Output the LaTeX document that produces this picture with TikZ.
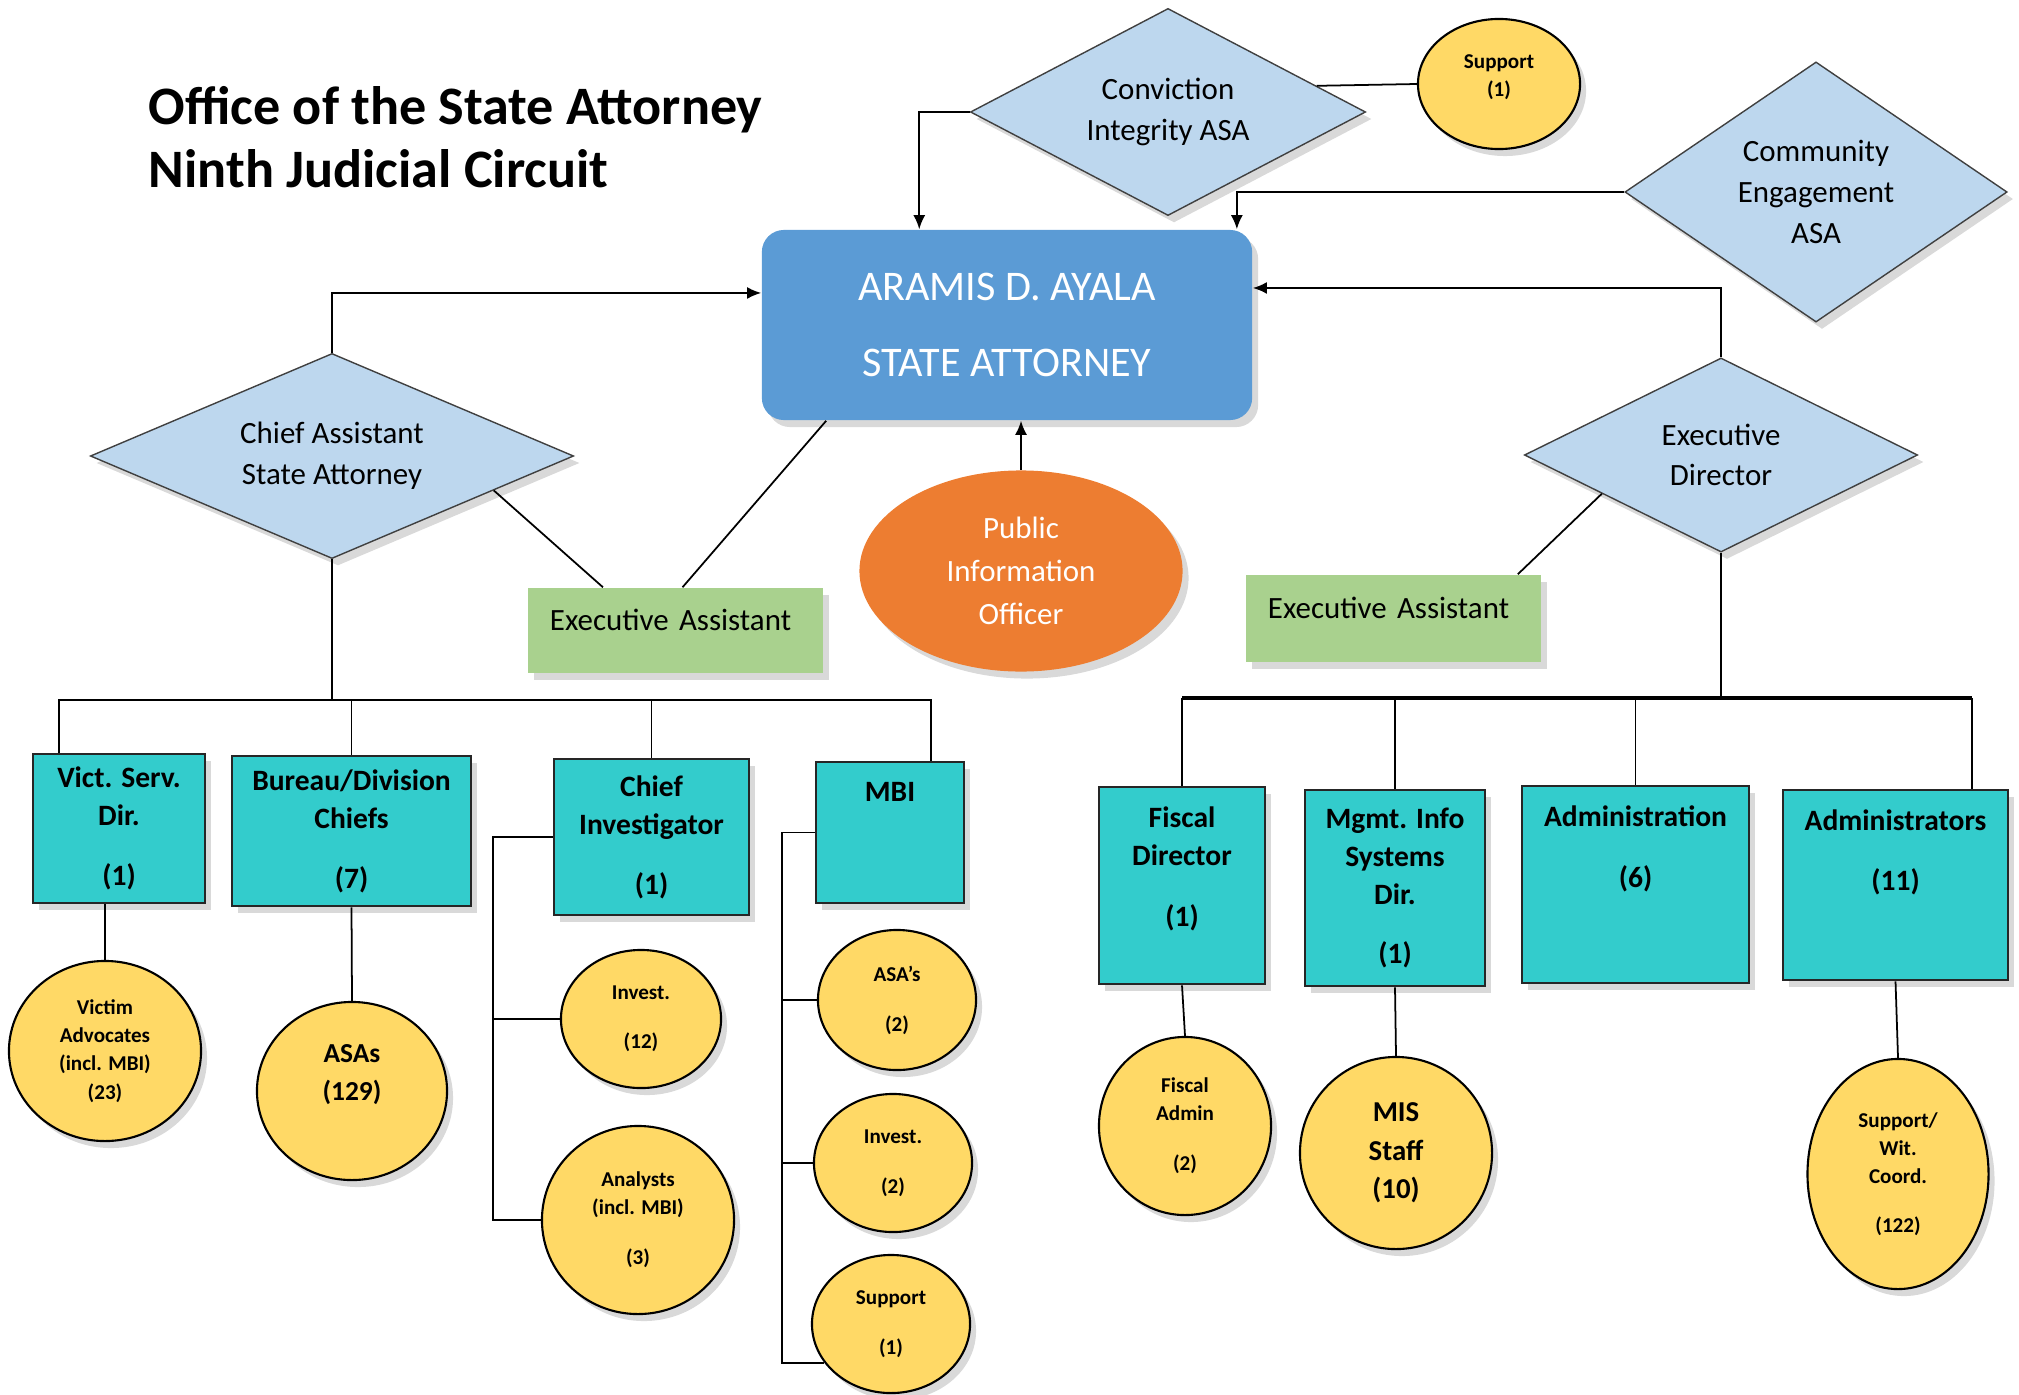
\documentclass[tikz,border=0pt]{standalone}
\usepackage{fontspec}
\setmainfont{Carlito}
\usetikzlibrary{shapes.geometric,shadows,arrows.meta}

\definecolor{asaBlue}{HTML}{BDD7EE}
\definecolor{saBlue}{HTML}{5B9BD5}
\definecolor{unitTeal}{HTML}{33CCCC}
\definecolor{staffGold}{HTML}{FFD966}
\definecolor{eaGreen}{HTML}{A9D18E}
\definecolor{pioOrange}{HTML}{ED7D31}

\tikzset{
  lift/.style={drop shadow={opacity=0.3, shadow xshift=0.6mm, shadow yshift=-0.7mm}},
  sa/.style={rectangle, rounded corners=0.22cm, fill=saBlue, text=white, align=center,
    inner sep=0pt, font=\fontsize{12}{21.5}\selectfont, lift},
  head/.style={diamond, aspect=2.5, draw=black!75, fill=asaBlue, inner sep=0pt, align=center,
    font=\fontsize{8.8}{11.6}\selectfont, lift},
  aide/.style={rectangle, fill=eaGreen, inner xsep=0.22cm, inner ysep=0pt, text width=2.51cm,
    align=left, text height=6pt, text depth=6pt, font=\fontsize{8.8}{10}\selectfont, lift},
  pr/.style={ellipse, fill=pioOrange, text=white, inner sep=0pt, align=center,
    font=\fontsize{8.8}{12.2}\selectfont, lift},
  unit/.style={rectangle, draw=black!85, line width=0.7pt, fill=unitTeal, inner sep=0pt,
    align=center, font=\bfseries\fontsize{8.4}{10.8}\selectfont, lift},
  staff/.style={ellipse, draw=black, line width=0.6pt, fill=staffGold, inner sep=0pt,
    align=center, font=\bfseries\fontsize{6}{8}\selectfont, lift},
  bigstaff/.style={staff, font=\bfseries\fontsize{7.8}{10.6}\selectfont},
  link/.style={black, line width=0.5pt},
  feed/.style={link, -{Latex[length=4pt,width=3.4pt]}},
  bus/.style={black, line width=1.1pt}
}

\begin{document}
\begin{tikzpicture}[x=0.01cm, y=-0.01cm]
  \path[use as bounding box] (0,0) rectangle (2019,1394);

  % Heading
  \node[anchor=base west, inner sep=0pt, font=\bfseries\fontsize{15.4}{18}\selectfont] (title1) at (148,125) {Office of the State Attorney};
  \node[anchor=base west, inner sep=0pt, font=\bfseries\fontsize{15.4}{18}\selectfont] (title2) at (148,188) {Ninth Judicial Circuit};

  % State Attorney and the offices around her
  \node[sa, minimum width=4.90cm, minimum height=1.90cm] (sa) at (1007,325) {ARAMIS D. AYALA\\STATE ATTORNEY};
  \node[head, minimum width=3.95cm, minimum height=2.07cm] (ci) at (1168,112) {Conviction\\Integrity ASA};
  \node[staff, minimum width=1.62cm, minimum height=1.30cm] (sup0) at (1499,84) {Support\\(1)\\[-3.2pt]~};
  \node[head, aspect=1.2, minimum width=3.82cm, minimum height=2.60cm] (ce) at (1816,192) {Community\\Engagement\\ASA};
  \node[head, minimum width=3.93cm, minimum height=1.94cm] (ed) at (1721,455) {Executive\\Director};
  \node[head, minimum width=4.83cm, minimum height=2.05cm] (cas) at (332,456) {Chief Assistant\\State Attorney};
  \node[aide, minimum height=0.85cm] (eal) at (675.5,630.5) {Executive Assistant};
  \node[aide, minimum height=0.87cm] (ear) at (1393.5,618.5) {Executive Assistant};
  \node[pr, minimum width=3.23cm, minimum height=2.01cm] (pio) at (1021,571) {Public\\Information\\Officer};

  % Units under the Chief Assistant
  \node[unit, minimum width=1.72cm, minimum height=1.49cm] (vsd) at (119,828.5) {Vict. Serv.\\Dir.\\[6.2pt](1)};
  \node[unit, minimum width=2.39cm, minimum height=1.50cm] (bdc) at (351.5,831) {Bureau/Division\\Chiefs\\[6.2pt](7)};
  \node[unit, minimum width=1.95cm, minimum height=1.56cm] (civ) at (651.5,837) {Chief\\Investigator\\[6.2pt](1)};
  \node[unit, minimum width=1.48cm, minimum height=1.41cm] (mbi) at (890,832.5) {MBI\\[12pt]~};

  % Units under the Executive Director
  \node[unit, minimum width=1.66cm, minimum height=1.97cm] (fd) at (1182,885.5) {Fiscal\\Director\\[6.5pt](1)\\~};
  \node[unit, minimum width=1.80cm, minimum height=1.96cm] (mis) at (1395,888) {Mgmt. Info\\Systems\\Dir.\\[6.2pt](1)};
  \node[unit, minimum width=2.27cm, minimum height=1.97cm] (adm) at (1635.5,884.5) {Administration\\[6.5pt](6)\\[10.7pt]~};
  \node[unit, minimum width=2.25cm, minimum height=1.90cm] (ads) at (1895.5,885) {Administrators\\[6.2pt](11)\\[9pt]~};

  % Staff
  \node[staff, minimum width=1.92cm, minimum height=1.80cm] (va) at (105,1051) {Victim\\Advocates\\(incl. MBI)\\(23)};
  \node[bigstaff, minimum width=1.90cm, minimum height=1.78cm] (asa) at (352,1091) {ASAs\\(129)\\~};
  \node[staff, minimum width=1.60cm, minimum height=1.38cm] (inv12) at (641,1019) {Invest.\\[5.9pt](12)};
  \node[staff, minimum width=1.92cm, minimum height=1.88cm] (ana) at (638,1220) {Analysts\\(incl. MBI)\\[6.2pt](3)};
  \node[staff, minimum width=1.58cm, minimum height=1.40cm] (asa2) at (897,1000) {ASA’s\\[6.2pt](2)};
  \node[staff, minimum width=1.58cm, minimum height=1.38cm] (inv2) at (893,1163) {Invest.\\[6.2pt](2)};
  \node[staff, minimum width=1.58cm, minimum height=1.38cm] (sup2) at (891,1324) {Support\\[6.2pt](1)};
  \node[staff, minimum width=1.72cm, minimum height=1.78cm] (fa) at (1185,1126) {Fiscal\\Admin\\[6.2pt](2)};
  \node[bigstaff, font=\bfseries\fontsize{8.2}{10.9}\selectfont, minimum width=1.92cm, minimum height=1.92cm] (mst) at (1396,1153) {MIS\\Staff\\(10)};
  \node[staff, minimum width=1.81cm, minimum height=2.30cm] (swc) at (1898,1174) {Support/\\Wit.\\Coord.\\[6pt](122)};

  % Lines into the State Attorney
  \draw[feed] (ci.west) -| ([xshift=1.58cm]sa.north west);
  \draw[link] (sup0.west) -- (ci.10);
  \draw[feed] (ce.west) -| ([xshift=-0.16cm]sa.north east);
  \draw[feed] (ed.north) |- ([yshift=0.37cm]sa.east);
  \draw[feed] (cas.north) |- ([yshift=0.32cm]sa.west);
  \draw[feed] (pio.north) -- (pio.north |- sa.south);

  % Executive assistants
  \draw[link] (cas.-12) -- ([xshift=-0.725cm]eal.north);
  \draw[link] ([xshift=0.65cm]sa.south west) -- ([xshift=0.07cm]eal.north);
  \draw[link] ([xshift=-0.24cm]ear.north east) -- (ed.198);

  % Left branch
  \draw[link] (cas.south) -- ++(0,-1.41cm) coordinate (lbus);
  \draw[link] ([xshift=0.27cm]vsd.north west) |- ([xshift=-0.34cm]mbi.north east |- lbus) -- ([xshift=-0.34cm]mbi.north east);
  \draw[link] (bdc.north) -- (bdc.north |- lbus);
  \draw[link] (civ.north) -- (civ.north |- lbus);
  \draw[link] (vsd.south -| va.north) -- (va.north);
  \draw[link] (bdc.south) -- (asa.north);
  \draw[link] (civ.west) -- ++(-0.60cm,0) coordinate (cbr) |- (ana.west);
  \draw[link] (cbr |- inv12.west) -- (inv12.west);
  \draw[link] (mbi.west) -- ++(-0.33cm,0) coordinate (mbr) |- (sup2.210);
  \draw[link] (mbr |- asa2.west) -- (asa2.west);
  \draw[link] (mbr |- inv2.west) -- (inv2.west);

  % Right branch
  \draw[link] (ed.south) -- ++(0,-1.45cm) coordinate (rbus);
  \draw[bus] (fd.north |- rbus) -- ([xshift=-0.37cm]ads.north east |- rbus);
  \draw[link] (fd.north) -- (fd.north |- rbus);
  \draw[link] (mis.north) -- (mis.north |- rbus);
  \draw[link] (adm.north) -- (adm.north |- rbus);
  \draw[link] ([xshift=-0.37cm]ads.north east) -- ([xshift=-0.37cm]ads.north east |- rbus);
  \draw[link] (fd.south) -- (fa.north);
  \draw[link] (mis.south) -- (mst.north);
  \draw[link] (ads.south) -- (swc.north);
\end{tikzpicture}
\end{document}
